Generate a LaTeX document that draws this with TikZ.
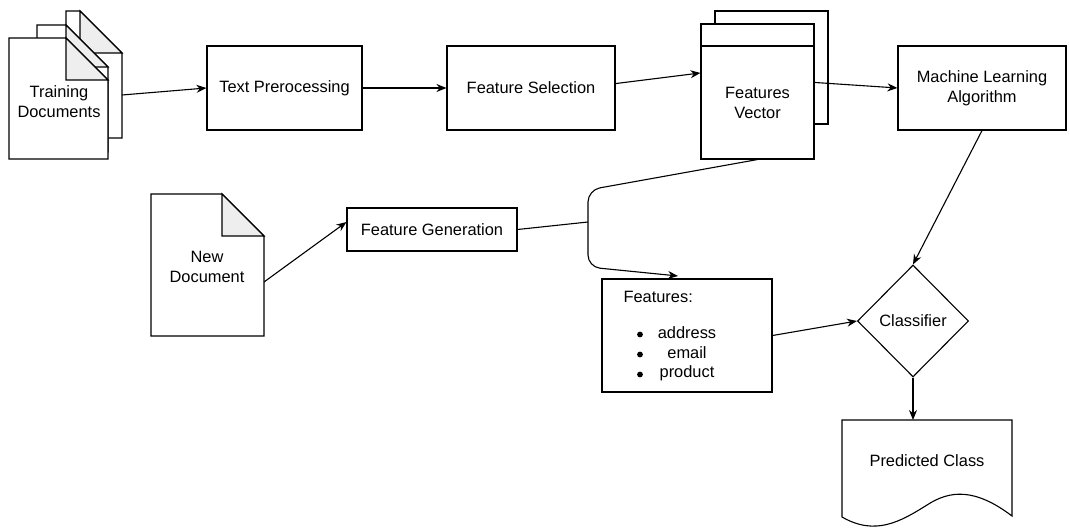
\documentclass[tikz,border=0pt]{standalone}
\usepackage{fontspec}
\setmainfont{Liberation Sans}
\usetikzlibrary{arrows.meta,shapes.geometric,calc}
\definecolor{foldgray}{HTML}{EEEEEE}
\begin{document}
\begin{tikzpicture}[x=1pt,y=-1pt,line width=1.1pt,
  font=\fontsize{16.4}{20}\selectfont,
  box/.style={draw,rectangle,fill=white,inner sep=0pt,align=center},
  txt/.style={inner sep=0pt,align=center},
  bul/.style={circle,fill=black,draw=none,inner sep=0pt,minimum size=5.8pt},
  arr/.style={-{Stealth[length=10pt,width=8pt]}},
  fold/.style={fill=foldgray},
  page/.style={fill=white}]
\useasboundingbox (0,0) rectangle (1070,529);

% Training documents (stack of three pages)
\draw[page] (66,11) -- (80,11) -- (122,53) -- (122,138) -- (66,138) -- cycle;
\draw[fold] (80,11) -- (80,53) -- (122,53) -- cycle;
\draw[page] (37,25) -- (66,25) -- (108,67) -- (108,152) -- (37,152) -- cycle;
\draw[fold] (66,25) -- (66,67) -- (108,67) -- cycle;
\draw[page] (9,38) -- (66,38) -- (108,80) -- (108,159) -- (9,159) -- cycle;
\draw[fold] (66,38) -- (66,80) -- (108,80) -- cycle;
\node[txt] (td) at (59,102) {Training\\Documents};
\coordinate (tdout) at (122,95);

% New document
\draw[page] (151,194) -- (222,194) -- (264,236) -- (264,336) -- (151,336) -- cycle;
\draw[fold] (222,194) -- (222,236) -- (264,236) -- cycle;
\node[txt] (nd) at (207,267) {New\\Document};
\coordinate (ndout) at (264,282);

% Boxes
\node[box,minimum width=155pt,minimum height=84pt] (tp) at (284.5,88) {Text Prerocessing};
\node[box,minimum width=168pt,minimum height=84pt] (fs) at (531,88) {Feature Selection};
\node[box,minimum width=113pt,minimum height=113pt] (fvb) at (771.5,67.5) {};
\node[box,minimum width=113pt,minimum height=135pt] (fv) at (757.5,91.5) {};
\draw (fv.west |- 0,46) -- (fv.east |- 0,46);
\node[txt] (fvl) at (757.5,103) {Features\\Vector};
\node[box,minimum width=168pt,minimum height=84pt] (ml) at (982,88) {Machine Learning\\Algorithm};
\node[box,minimum width=170pt,minimum height=43pt] (fg) at (432,229.5) {Feature Generation};

% Features box
\node[box,minimum width=170pt,minimum height=113pt] (fb) at (687,335.5) {};
\node[txt,anchor=west] (fbt) at (623,297) {Features:};
\node[bul] (b1) at (640,334.5) {};
\node[bul] (b2) at (640,354.5) {};
\node[bul] (b3) at (640,374.5) {};
\node[txt] (i1) at (687,333) {address};
\node[txt] (i2) at (687,353) {email};
\node[txt] (i3) at (687,373) {product};

% Classifier
\node[draw,diamond,fill=white,inner sep=0pt,minimum width=111pt,minimum height=112pt] (cl) at (913,321) {Classifier};

% Predicted class (document shape)
\draw[fill=white] (842,420) -- (1012,420) -- (1012,516)
  .. controls (975,488) and (950,490) .. (927,505)
  .. controls (900,522) and (875,536) .. (842,517) -- cycle;
\node[txt] (pc) at (927,461) {Predicted Class};
\coordinate (pctop) at (913,420);

% Connectors
\draw[arr] (tdout) -- (tp.west);
\draw[arr] (tp.east) -- (fs.west);
\draw[arr] (fs.3) -- (fv.162);
\draw[arr] (fv.9.5) -- (ml.west);
\draw[arr] (ndout) -- (fg.175);
\coordinate (j1) at (588,190);
\coordinate (j2) at (588,267);
\coordinate (fbin) at (678,276);
\draw[arr,rounded corners=12pt] (fv.south) -- (j1) -- (j2) -- (fbin);
\draw (fg.east) -- (588,222);
\draw[arr] (fb.east) -- (cl.west);
\draw[arr] (ml.south) -- (cl.north);
\draw[arr] (cl.south) -- (pctop);
\end{tikzpicture}
\end{document}
